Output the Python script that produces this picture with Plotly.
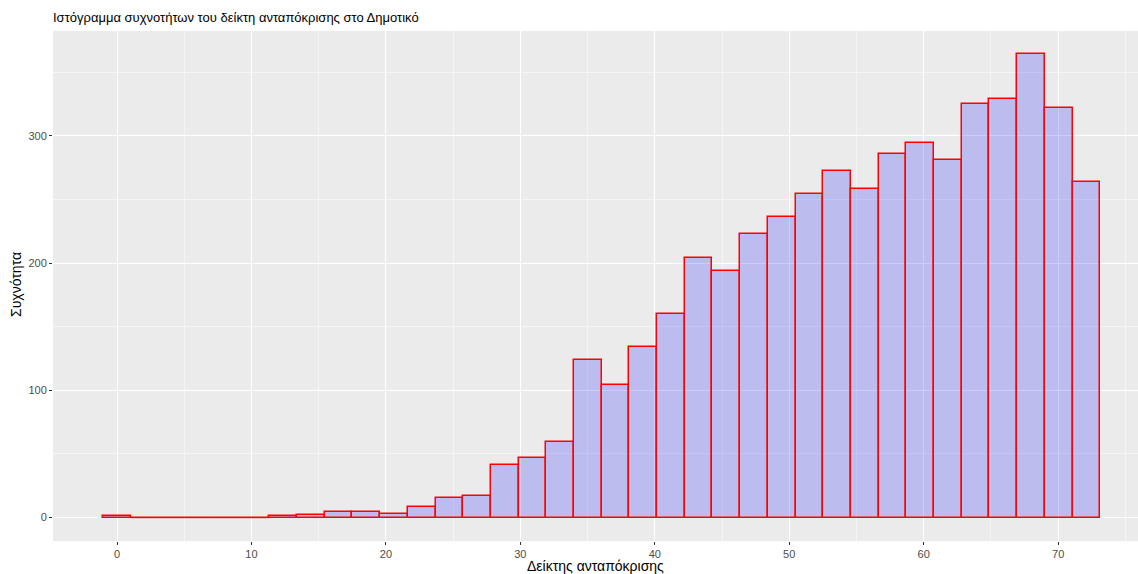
import numpy as np
import plotly.graph_objects as go

# Histogram of response index (36 bins, width ~2.06, first bin centred at 0)
BIN_WIDTH = 2.06
COUNTS = [
    1, 0, 0, 0, 0, 0, 1, 2, 4, 4, 3, 8, 15, 17, 41, 47, 59, 124,
    104, 134, 160, 204, 194, 223, 236, 254, 272, 258, 286, 294, 281,
    325, 329, 364, 322, 264,
]
X_TICKS = [0, 10, 20, 30, 40, 50, 60, 70]
Y_TICKS = [0, 100, 200, 300]

TITLE = 'Ιστόγραμμα συχνοτήτων του δείκτη ανταπόκρισης στο Δημοτικό'
X_TITLE = 'Δείκτης ανταπόκρισης'
Y_TITLE = 'Συχνότητα'

centers = np.arange(len(COUNTS)) * BIN_WIDTH
counts = np.array(COUNTS)

FONT = 'Liberation Sans, Arial, sans-serif'
FILL = 'rgba(0, 0, 255, 0.2)'
EDGE = 'red'
W, H = 1138, 574

fig = go.Figure()

# zero-count bins still get a red outline along the baseline in ggplot
zero = counts == 0
zx, zy = [], []
for c in centers[zero]:
    zx += [c - BIN_WIDTH / 2, c + BIN_WIDTH / 2, None]
    zy += [0, 0, None]
fig.add_trace(go.Scatter(
    x=zx, y=zy, mode='lines',
    line=dict(color=EDGE, width=1.2),
    hoverinfo='skip', showlegend=False
))

fig.add_trace(go.Bar(
    x=centers,
    y=counts,
    width=BIN_WIDTH,
    marker=dict(color=FILL, line=dict(color=EDGE, width=1.5)),
    showlegend=False,
    hovertemplate='%{x:.1f}: %{y}<extra></extra>'
))

fig.update_layout(
    width=W,
    height=H,
    margin=dict(l=53, r=0, t=31, b=33, autoexpand=False),
    paper_bgcolor='white',
    plot_bgcolor='#EBEBEB',
    font=dict(family=FONT, color='black'),
    bargap=0,
    title=dict(
        text=TITLE, x=53 / W, xanchor='left', y=1 - 17 / H, yanchor='middle',
        font=dict(size=13, color='black', family=FONT)
    ),
    xaxis=dict(
        range=[-4.76, 75.94],
        tickvals=X_TICKS,
        ticks='outside', ticklen=3, tickcolor='#333333', tickwidth=1,
        tickfont=dict(size=11, color='#4D4D4D'),
        showgrid=True, gridcolor='white', gridwidth=1.1,
        minor=dict(dtick=10, tick0=5, showgrid=True, gridcolor='#F5F5F5', gridwidth=0.6, ticks=''),
        zeroline=False, showline=False, automargin=False,
    ),
    yaxis=dict(
        range=[-18.4, 382.3],
        tickvals=Y_TICKS,
        ticks='outside', ticklen=3, tickcolor='#333333', tickwidth=1,
        tickfont=dict(size=11, color='#4D4D4D'),
        showgrid=True, gridcolor='white', gridwidth=1.1,
        minor=dict(dtick=100, tick0=50, showgrid=True, gridcolor='#F5F5F5', gridwidth=0.6, ticks=''),
        zeroline=False, showline=False, automargin=False,
    ),
    annotations=[
        dict(text=X_TITLE, xref='paper', yref='paper', x=(595 - 53) / (W - 53),
             y=-(566 - 541) / (H - 64), xanchor='center', yanchor='middle',
             showarrow=False, font=dict(size=14, color='black')),
        dict(text=Y_TITLE, xref='paper', yref='paper', x=-(53 - 16) / (W - 53),
             y=(541 - 285) / (H - 64), xanchor='center', yanchor='middle',
             textangle=-90, showarrow=False, font=dict(size=14, color='black')),
    ],
)

# the default page body has an 8px margin; drop it so the figure sits at 0,0
fig.write_html(
    'out.html',
    config={'displayModeBar': False},
    post_script="document.body.style.margin='0';",
)
